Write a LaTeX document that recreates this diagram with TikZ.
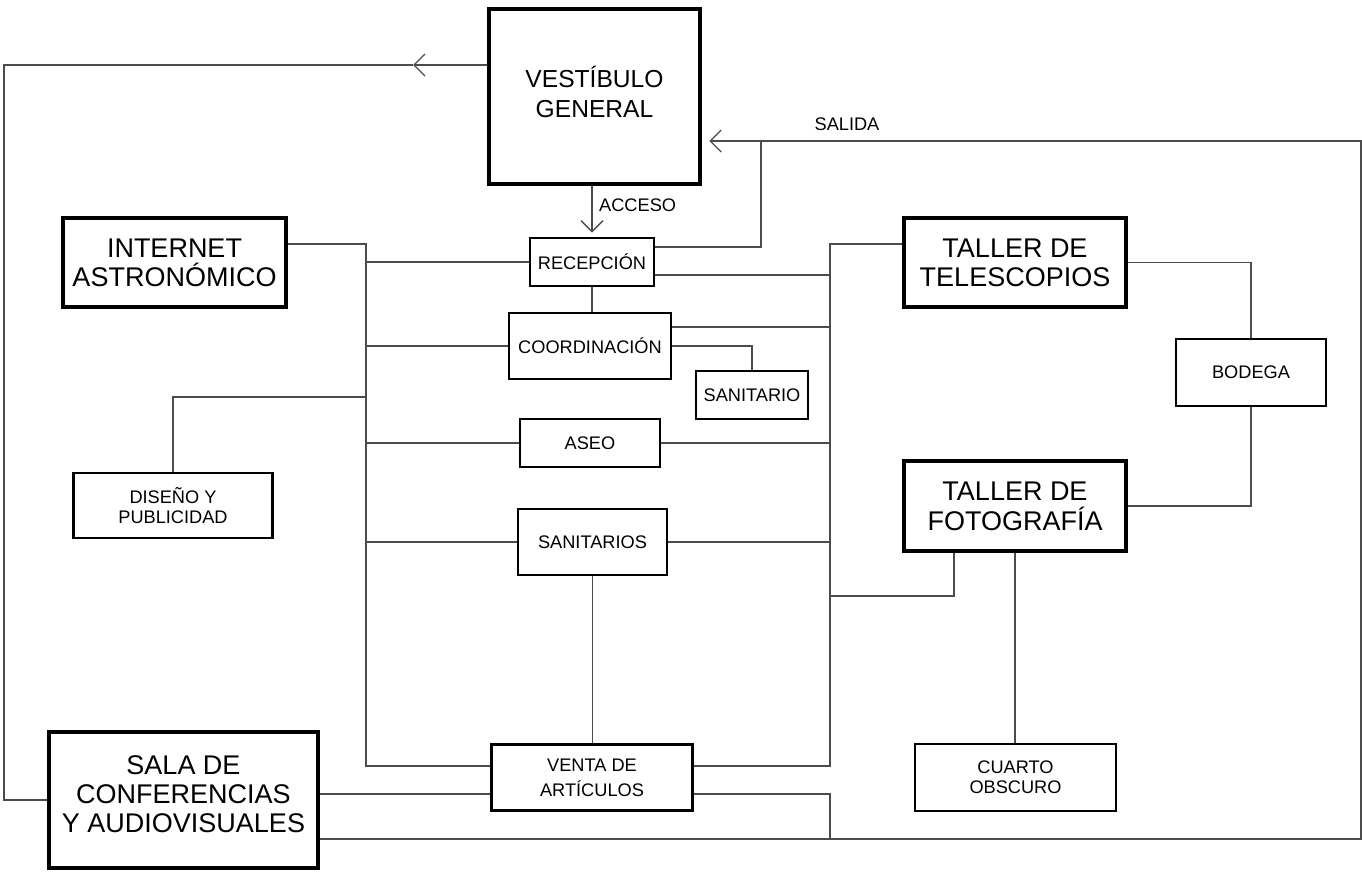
\documentclass[tikz,border=0pt]{standalone}
\usepackage{fontspec}
\setmainfont{Liberation Sans}
\usetikzlibrary{arrows.meta}
% invisible depth, lifts the text block inside a fixed-size box
\newcommand{\lift}[1]{\rule[-#1]{0pt}{#1}}
\begin{document}
\begin{tikzpicture}[x=1pt,y=-1pt,
  bigbox/.style={draw, line width=4.5pt, inner sep=0pt, align=center,
    font=\fontsize{27}{29}\selectfont},
  smallbox/.style={draw, line width=2.6pt, inner sep=0pt, align=center,
    font=\fontsize{18.2}{20}\selectfont},
  lbl/.style={inner sep=0pt, font=\fontsize{18.2}{20}\selectfont},
  wire/.style={draw=black!70, line width=1.4pt},
  chev/.style={-{Straight Barb[length=11pt,width=22pt]}}]
\useasboundingbox (0,0) rectangle (1362,871);

% main areas
\node[bigbox, minimum width=211, minimum height=175,
  font=\fontsize{24.6}{30}\selectfont] (VG) at (594.5,96.5) {VESTÍBULO\\GENERAL\lift{10pt}};
\node[bigbox, minimum width=223, minimum height=89] (IA) at (174.5,262.5) {INTERNET\\ASTRONÓMICO};
\node[bigbox, minimum width=222, minimum height=89] (TT) at (1015,262.5) {TALLER DE\\TELESCOPIOS};
\node[bigbox, minimum width=222, minimum height=90,
  font=\fontsize{27}{30}\selectfont] (TF) at (1015,506) {TALLER DE\\FOTOGRAFÍA};
\node[bigbox, minimum width=269, minimum height=136] (SALA) at (183.5,800) {SALA DE\\CONFERENCIAS\\Y AUDIOVISUALES\lift{12pt}};

% service rooms
\node[smallbox, minimum width=124, minimum height=48] (REC) at (592,262) {RECEPCIÓN};
\node[smallbox, minimum width=162, minimum height=66] (COORD) at (590,346) {COORDINACIÓN};
\node[smallbox, minimum width=112, minimum height=48] (SANI) at (752,395) {SANITARIO};
\node[smallbox, minimum width=140, minimum height=48] (ASEO) at (590,443) {ASEO};
\node[smallbox, minimum width=149, minimum height=66] (SANS) at (592.5,542) {SANITARIOS};
\node[smallbox, minimum width=201, minimum height=66,
  font=\fontsize{18.2}{25}\selectfont] (VENTA) at (592,777.5) {VENTA DE\\ARTÍCULOS};
\node[smallbox, minimum width=199, minimum height=65,
  font=\fontsize{18.2}{19.5}\selectfont] (DIS) at (173,505.5) {DISEÑO Y\\PUBLICIDAD};
\node[smallbox, minimum width=150, minimum height=67] (BOD) at (1251,372.5) {BODEGA};
\node[smallbox, minimum width=201, minimum height=67] (CUA) at (1015.5,777.5) {CUARTO\\OBSCURO};

% entry and exit flows
\coordinate (a1) at (413,65);
\draw[wire, chev] (VG.west |- a1) -- (a1);
\draw[wire] (a1) -| (4,800) -- (SALA.west);
\draw[wire, chev, shorten >=4pt] (REC.north |- VG.south) -- (REC.north);
\node[lbl, anchor=west] (acc) at (599,205.5) {ACCESO};
\draw[wire, chev, shorten >=7pt] (SALA.east |- 0,839) -- (1361,839) -- (1361,141) -- (VG.east |- 0,141);
\node[lbl] (sal) at (847,124) {SALIDA};
\coordinate (j1) at (761,141);
\draw[wire] (REC.east |- 0,247) -| (j1);

% right trunk
\draw[wire] (TT.west |- 0,244) -| (830,766) -- (VENTA.east |- 0,766);
\draw[wire] (REC.east |- 0,275) -- (830,275);
\draw[wire] (COORD.east |- 0,327) -- (830,327);
\draw[wire] (ASEO.east) -- (830,443);
\draw[wire] (SANS.east) -- (830,542);
\draw[wire] (TF.south -| 954,0) |- (830,596);
\draw[wire] (VENTA.east |- 0,794) -| (830,839);

% left trunk
\draw[wire] (IA.east |- 0,244) -| (366,766) -- (VENTA.west |- 0,766);
\draw[wire] (366,262) -- (REC.west);
\draw[wire] (366,346) -- (COORD.west);
\draw[wire] (366,397) -| (DIS.north);
\draw[wire] (366,443) -- (ASEO.west);
\draw[wire] (366,542) -- (SANS.west);
\draw[wire] (SALA.east |- 0,794) -- (VENTA.west |- 0,794);

% direct links
\draw[wire] (REC.south) -- (REC.south |- COORD.north);
\draw[wire] (COORD.east) -| (SANI.north);
\draw[wire] (SANS.south) -- (SANS.south |- VENTA.north);
\draw[wire] (TT.east) -| (BOD.north);
\draw[wire] (BOD.south) |- (TF.east);
\draw[wire] (TF.south) -- (TF.south |- CUA.north);
\end{tikzpicture}
\end{document}
